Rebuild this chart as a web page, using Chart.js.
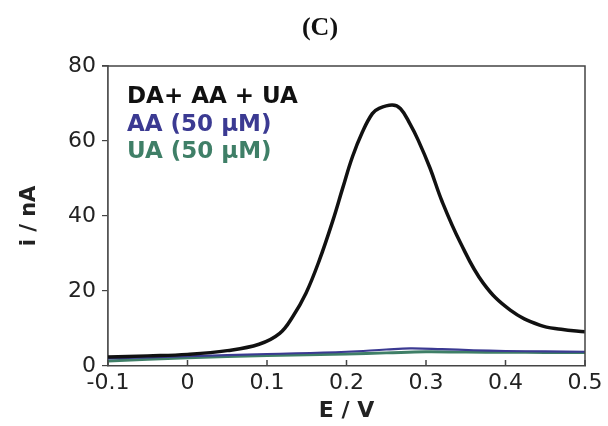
<!DOCTYPE html>
<html>
<head>
<meta charset="utf-8">
<script src="https://cdn.jsdelivr.net/npm/chart.js@4/dist/chart.umd.min.js"></script>
<style>
  html, body { margin: 0; padding: 0; background: #fff; }
  #wrap { width: 608px; height: 426px; position: relative; }
</style>
</head>
<body>
<div id="wrap"><canvas id="grafica"></canvas></div>
<script>
// datos (E en V, i en nA)
var potencialMezcla = [-0.1, -0.05, 0, 0.05, 0.09, 0.116, 0.1325, 0.149, 0.166, 0.183, 0.195, 0.2075, 0.22, 0.2325, 0.241, 0.2575, 0.268, 0.28, 0.29, 0.305, 0.32, 0.343, 0.372, 0.406, 0.443, 0.47, 0.5];
var corrienteMezcla = [2.4, 2.7, 3.1, 4.1, 5.8, 8.7, 13.2, 19.4, 28.3, 38.9, 47.3, 55.8, 62.4, 67.3, 68.7, 69.6, 68.6, 64.5, 60.3, 52.8, 44, 33, 22.1, 14.9, 10.9, 9.8, 9.1];

var potencialAA = [-0.1, 0, 0.1, 0.2, 0.25, 0.28, 0.32, 0.36, 0.4, 0.45, 0.5];
var corrienteAA = [2.0, 2.6, 3.2, 3.8, 4.4, 4.7, 4.5, 4.2, 4.0, 3.9, 3.8];

var potencialUA = [-0.1, 0, 0.1, 0.2, 0.25, 0.3, 0.35, 0.4, 0.45, 0.5];
var corrienteUA = [1.3, 2.2, 2.8, 3.2, 3.5, 3.8, 3.7, 3.7, 3.6, 3.6];

var etiquetasSerie = ['DA+ AA + UA', 'AA (50 \u03bcM)', 'UA (50 \u03bcM)'];
var coloresSerie = ['#111111', '#3b3a92', '#3f7f67'];

var ticksX = [-0.1, 0, 0.1, 0.2, 0.3, 0.4, 0.5];
var etiquetasX = ['-0.1', '0', '0.1', '0.2', '0.3', '0.4', '0.5'];
var ticksY = [0, 20, 40, 60, 80];
var etiquetasY = ['0', '20', '40', '60', '80'];

function puntos(xs, ys) {
  return xs.map(function (x, i) { return { x: x, y: ys[i] }; });
}

// titulo, marco superior/derecho, ticks hacia dentro en X y leyenda de texto
var marcoYLeyenda = {
  id: 'marcoYLeyenda',
  afterDraw: function (chart) {
    var ctx = chart.ctx, a = chart.chartArea, sx = chart.scales.x;
    ctx.save();
    ctx.strokeStyle = '#444';
    ctx.lineWidth = 1.5;
    ctx.beginPath();
    ctx.moveTo(a.left - 6, a.top);
    ctx.lineTo(a.right, a.top);
    ctx.lineTo(a.right, a.bottom);
    ctx.stroke();
    ctx.beginPath();
    ticksX.forEach(function (v) {
      var px = sx.getPixelForValue(v);
      ctx.moveTo(px, a.bottom);
      ctx.lineTo(px, a.bottom - 6);
    });
    ctx.stroke();

    ctx.fillStyle = '#111';
    ctx.font = 'bold 26px "Liberation Serif"';
    ctx.textAlign = 'center';
    ctx.textBaseline = 'middle';
    ctx.fillText('(C)', 320, 28);

    ctx.font = 'bold 23px "DejaVu Sans"';
    ctx.textAlign = 'left';
    ctx.textBaseline = 'alphabetic';
    etiquetasSerie.forEach(function (t, i) {
      ctx.fillStyle = coloresSerie[i];
      ctx.fillText(t, a.left + 19, 103 + i * 27.5);
    });
    ctx.restore();
  }
};

var grafica = new Chart(document.getElementById('grafica').getContext('2d'), {
  type: 'line',
  data: {
    datasets: [
      { label: etiquetasSerie[0], data: puntos(potencialMezcla, corrienteMezcla), borderColor: coloresSerie[0], borderWidth: 3.5 },
      { label: etiquetasSerie[1], data: puntos(potencialAA, corrienteAA), borderColor: coloresSerie[1], borderWidth: 2.2 },
      { label: etiquetasSerie[2], data: puntos(potencialUA, corrienteUA), borderColor: coloresSerie[2], borderWidth: 3 }
    ]
  },
  options: {
    responsive: true,
    maintainAspectRatio: false,
    animation: false,
    layout: { padding: { left: 0, right: 23, top: 66, bottom: 0 } },
    elements: {
      point: { radius: 0 },
      line: { tension: 0.4, cubicInterpolationMode: 'default', fill: false }
    },
    plugins: {
      legend: { display: false },
      tooltip: { enabled: false },
      title: { display: false }
    },
    scales: {
      x: {
        type: 'linear',
        min: -0.1,
        max: 0.5,
        afterBuildTicks: function (s) { s.ticks = ticksX.map(function (v) { return { value: v }; }); },
        afterFit: function (s) { s.height = 60; },
        ticks: {
          color: '#222',
          font: { family: '"DejaVu Sans"', size: 22 },
          padding: 4,
          maxRotation: 0,
          callback: function (v, i) { return etiquetasX[i]; }
        },
        grid: { display: true, drawOnChartArea: false, drawTicks: false },
        border: { display: true, color: '#444', width: 1.5 },
        title: {
          display: true,
          text: 'E / V',
          color: '#222',
          font: { family: '"DejaVu Sans"', size: 22, weight: 'bold' },
          padding: { top: 2, bottom: 2 }
        }
      },
      y: {
        min: 0,
        max: 80,
        afterBuildTicks: function (s) { s.ticks = ticksY.map(function (v) { return { value: v }; }); },
        afterFit: function (s) { s.width = 108; },
        ticks: {
          color: '#222',
          font: { family: '"DejaVu Sans"', size: 22 },
          padding: 6,
          callback: function (v, i) { return etiquetasY[i]; }
        },
        grid: { display: true, drawOnChartArea: false, drawTicks: true, tickLength: 6, color: '#444', lineWidth: 1.2 },
        border: { display: true, color: '#555', width: 1.8 },
        title: {
          display: true,
          text: 'i / nA',
          color: '#222',
          font: { family: '"DejaVu Sans"', size: 21, weight: 'bold' },
          padding: { top: 17, bottom: 17 }
        }
      }
    }
  },
  plugins: [marcoYLeyenda]
});
</script>
</body>
</html>
